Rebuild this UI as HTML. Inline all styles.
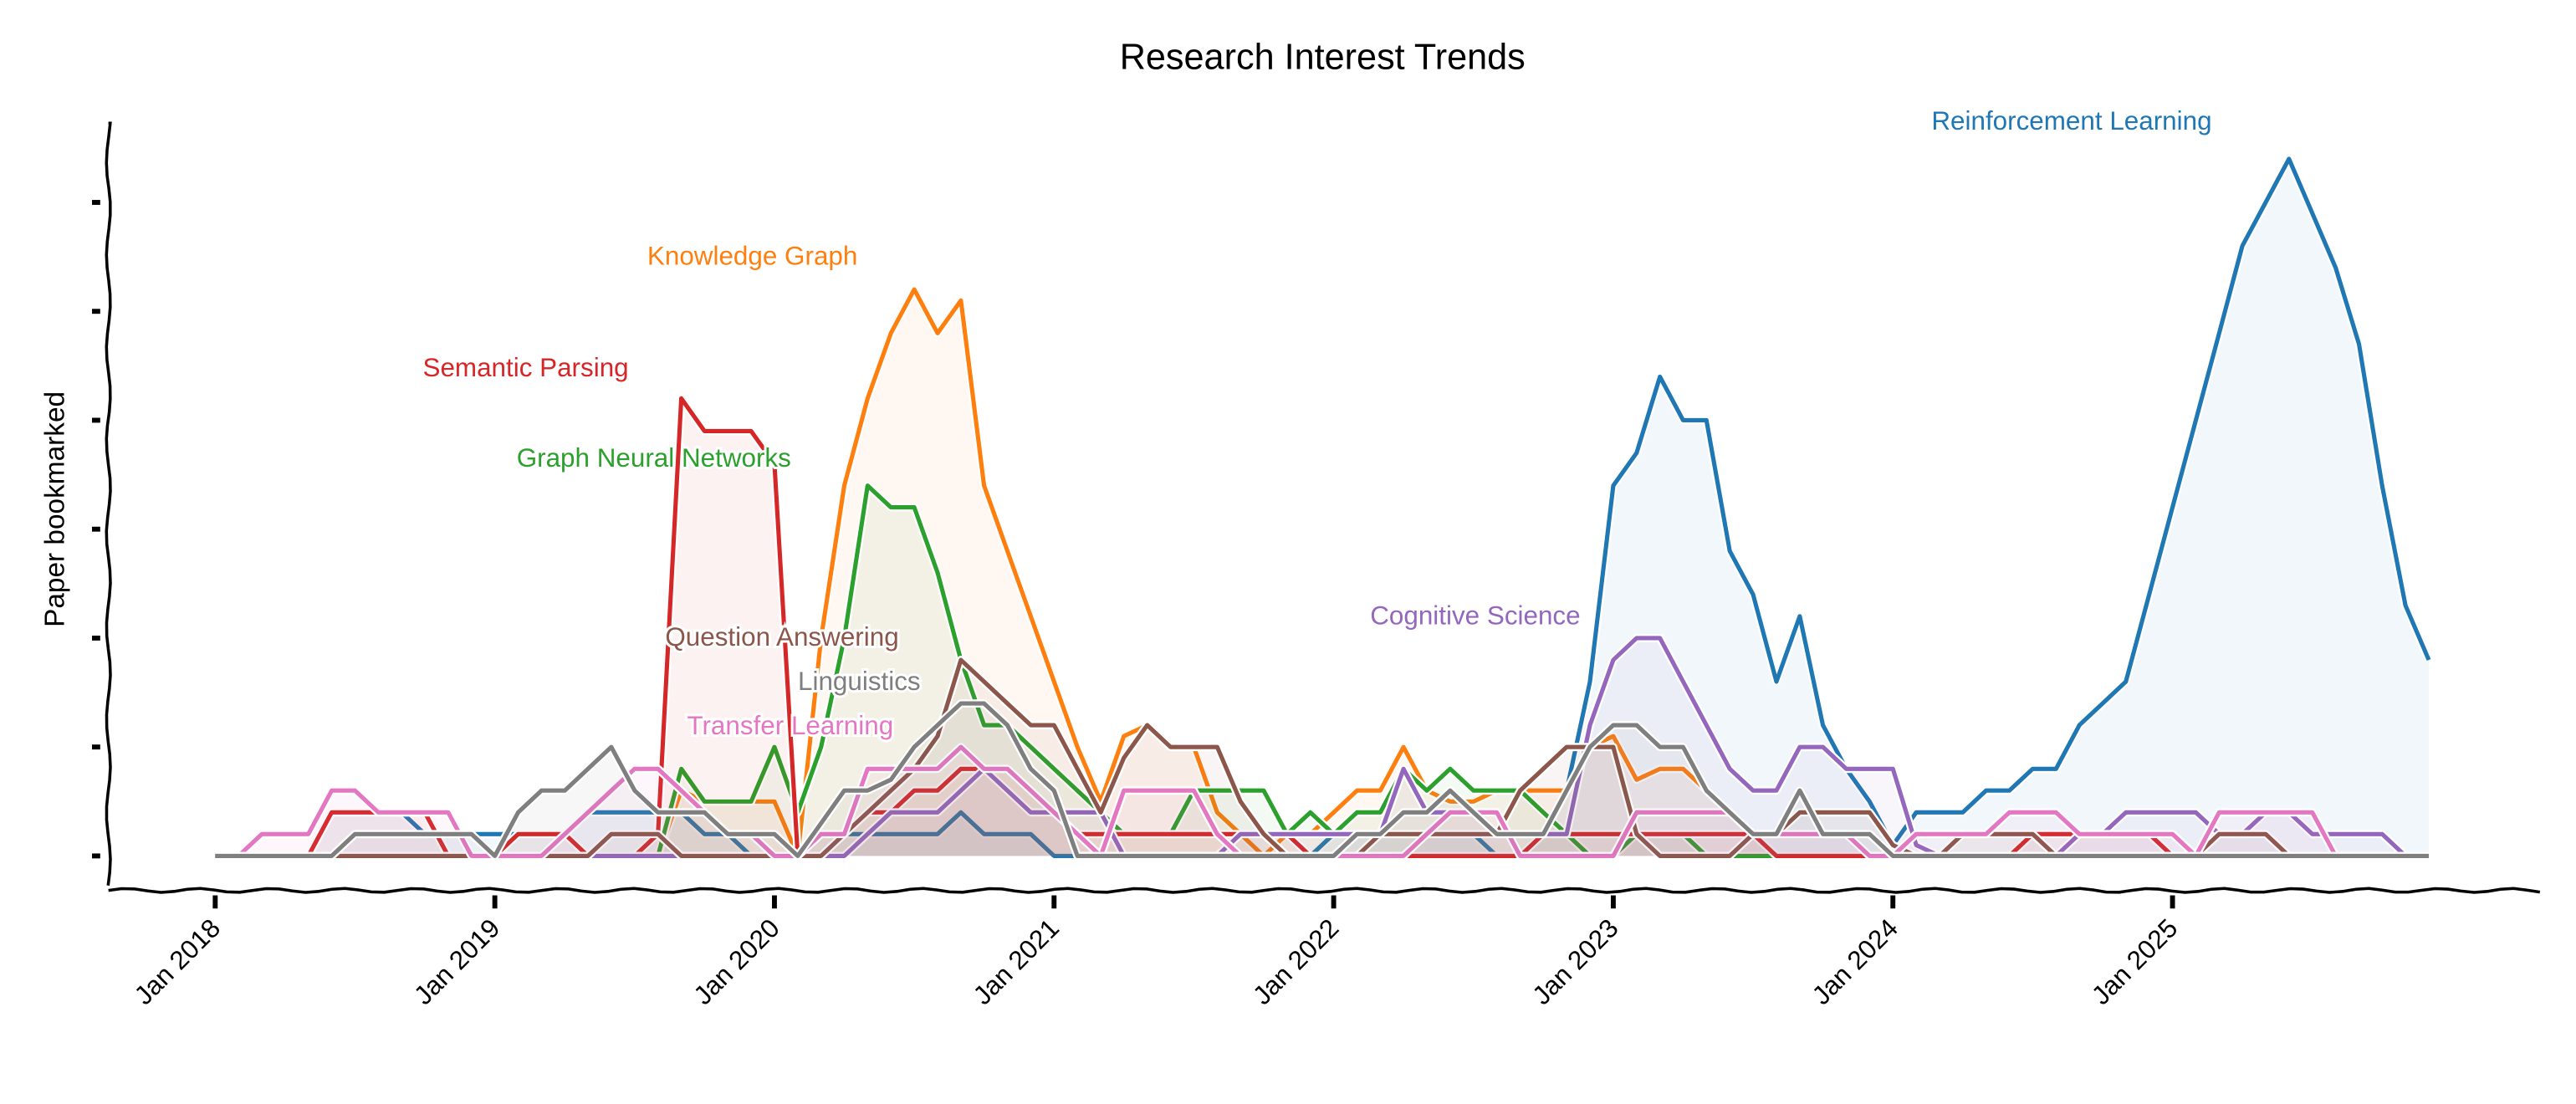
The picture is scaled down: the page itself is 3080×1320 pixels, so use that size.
<!DOCTYPE html>
<html><head><meta charset="utf-8"><style>
html,body{margin:0;padding:0;background:#fff}
svg{display:block}
text{font-family:"Liberation Sans","DejaVu Sans",sans-serif}
</style></head><body>
<svg id="chart" width="3080" height="1320" viewBox="0 0 1568 672" preserveAspectRatio="none" xmlns="http://www.w3.org/2000/svg">
<text x="805" y="42" font-size="22" text-anchor="middle" fill="#000">Research Interest Trends</text>
<text transform="translate(39,310) rotate(-90)" font-size="17" text-anchor="middle" fill="#000">Paper bookmarked</text>
<g id="plot"></g>
<g id="axes"></g>
</svg>
<script>
const months = 96; // Jan 2018 .. Dec 2025
const yearLabels = ["Jan 2018","Jan 2019","Jan 2020","Jan 2021","Jan 2022","Jan 2023","Jan 2024","Jan 2025"];
const yTicks = [0,5,10,15,20,25,30];
const seriesNames = ["Reinforcement Learning","Knowledge Graph","Graph Neural Networks","Semantic Parsing","Cognitive Science","Question Answering","Transfer Learning","Linguistics"];
const rlValues = [0,0,0,0,0,2,2,2,2,1,1,1,1,1,1,1,2,2,2,2,2,1,1,0,0,0,1,1,1,1,1,1,2,1,1,1,0,0,0,0,0,0,0,0,0,0,0,0,1,1,1,1,1,1,1,0,0,1,3,8,17,18.5,22,20,20,14,12,8,11,6,4,2.5,0.5,2,2,2,3,3,4,4,6,7,8,12,16,20,24,28,30,32,29.5,27,23.5,17,11.5,9];
const kgValues = [0,0,0,0,0,0,0,0,0,0,0,0,0,0,0,0,0,0,0,0,3,2.5,2.5,2.5,2.5,0,10,17,21,24,26,24,25.5,17,14,11,8,5,2.5,5.5,6,5,5,2,1,0,1,1,2,3,3,5,3,2.5,2.5,3,3,3,3,5,5.5,3.5,4,4,3,2,1,0,0,0,0,0,0,0,0,0,0,0,0,0,0,0,0,0,0,0,0,0,0,0,0,0,0,0,0,0];
const gnnValues = [0,0,0,0,0,0,0,0,0,0,0,0,0,0,0,0,0,0,0,0,4,2.5,2.5,2.5,5,2,5,10,17,16,16,13,9,6,6,5,4,3,2,1,1,1,3,3,3,3,1,2,1,2,2,4,3,4,3,3,3,2,1,0,0,1,1,1,0,0,0,0,0,0,0,0,0,0,0,0,0,0,0,0,0,0,0,0,0,0,0,0,0,0,0,0,0,0,0,0];
const spValues = [0,0,0,0,0,2,2,2,2,2,0,0,0,1,1,1,0,0,0,1,21,19.5,19.5,19.5,18,0,1,1,2,2,3,3,4,4,4,3,2,1,1,1,1,1,1,1,1,1,1,0,0,0,0,0,0,0,0,0,0,1,1,1,1,1,1,1,1,1,1,0,0,0,0,0,0,0,0,0,0,0,1,1,1,1,1,1,0,0,0,0,0,0,0,0,0,0,0,0];
const csValues = [0,0,0,0,0,0,0,0,0,0,0,0,0,0,0,0,0,0,0,0,0,0,0,0,0,0,0,0,1,2,2,2,3,4,3,2,2,2,2,0,0,0,0,0,1,1,1,1,1,1,1,4,2,2,2,1,1,1,1,6,9,10,10,8,6,4,3,3,5,5,4,4,4,0.5,0,0,0,0,0,0,1,1,2,2,2,2,1,1,2,2,1,1,1,1,0,0];
const qaValues = [0,0,0,0,0,0,0,0,0,0,0,0,0,0,0,0,0,1,1,1,0,0,0,0,0,0,0,1,2,3,4,5.5,9,8,7,6,6,4,2,4.5,6,5,5,5,2.5,1,0,0,0,0,1,1,1,1,1,1,3,4,5,5,5,1,0,0,0,0,1,1,2,2,2,2,0.5,0,0,1,1,1,1,0,0,0,0,0,0,0,1,1,1,0,0,0,0,0,0,0];
const tlValues = [0,0,1,1,1,3,3,2,2,2,2,0,0,0,0,1,2,3,4,4,3,2,1,1,0,0,1,1,4,4,4,4,5,4,4,3,2,1,0,3,3,3,3,1,0,0,0,0,0,0,0,0,1,2,2,2,0,0,0,0,0,2,2,2,2,2,1,1,1,1,1,0,0,1,1,1,1,2,2,2,1,1,1,1,1,0,2,2,2,2,2,0,0,0,0,0];
const lingValues = [0,0,0,0,0,0,1,1,1,1,1,1,0,2,3,3,4,5,3,2,2,2,1,1,1,0,1.5,3,3,3.5,5,6,7,7,6,4,3,0,0,0,0,0,0,0,0,0,0,0,0,1,1,2,2,3,2,1,1,1,3,5,6,6,5,5,3,2,1,1,3,1,1,1,0,0,0,0,0,0,0,0,0,0,0,0,0,0,0,0,0,0,0,0,0,0,0,0];
const seriesValues = [rlValues,kgValues,gnnValues,spValues,csValues,qaValues,tlValues,lingValues];
const colors = ["#1f77b4","#ff7f0e","#2ca02c","#d62728","#9467bd","#8c564b","#e377c2","#7f7f7f"];
const labelPos = [[1261,79],[458,161],[398,284],[320,229],[898,380],[476,393],[481,447],[523,420]];
const labelKeys = ["label-reinforcement-learning","label-knowledge-graph","label-graph-neural-networks","label-semantic-parsing","label-cognitive-science","label-question-answering","label-transfer-learning","label-linguistics"];
const lineKeys = ["line-reinforcement-learning","line-knowledge-graph","line-graph-neural-networks","line-semantic-parsing","line-cognitive-science","line-question-answering","line-transfer-learning","line-linguistics"];

const X0 = 131, PXM = 170.2/12, Y0 = 521, PXC = 13.26;
function xs(m){ return X0 + m*PXM; }
function ys(v){ return Y0 - v*PXC; }
const NS = "http://www.w3.org/2000/svg";
const plot = document.getElementById('plot');
const axes = document.getElementById('axes');
function mk(tag, attrs, parent){ const e=document.createElementNS(NS,tag); for(const k in attrs) e.setAttribute(k,attrs[k]); parent.appendChild(e); return e; }

seriesValues.forEach((vals,i)=>{
  let pts = vals.map((v,m)=>xs(m).toFixed(1)+','+ys(v).toFixed(1));
  const area = mk('path',{d:'M'+xs(0)+','+Y0+' L'+pts.join(' L')+' L'+xs(vals.length-1)+','+Y0+' Z',fill:colors[i],'fill-opacity':0.06,stroke:'none'},plot);
  
  
  const halo = mk('path',{d:'M'+pts.join(' L'),fill:'none',stroke:'#fff','stroke-width':5,'stroke-linejoin':'round'},plot);
  
  
  const line = mk('path',{d:'M'+pts.join(' L'),fill:'none',stroke:colors[i],'stroke-width':2.6,'stroke-linejoin':'round'},plot);
  
  
});
seriesNames.forEach((n,i)=>{
  const t = mk('text',{x:labelPos[i][0],y:labelPos[i][1],'font-size':16,'text-anchor':'middle',fill:colors[i],stroke:'#fff','stroke-width':3,'paint-order':'stroke'},plot);
  t.textContent = n;
  
  
});

// wobbly axes
let yd='M66,75'; for(let y=75;y<=541;y+=8){ yd+=' L'+(66+1.2*Math.sin(y/9)).toFixed(1)+','+y; }
const yax = mk('path',{d:yd,fill:'none',stroke:'#000','stroke-width':1.8},axes);


let xd='M66,542'; for(let x=66;x<=1548;x+=8){ xd+=' L'+x+','+(542+1.2*Math.sin(x/7)).toFixed(1); }
const xax = mk('path',{d:xd,fill:'none',stroke:'#000','stroke-width':1.8},axes);



yTicks.forEach(v=>{
  const t = mk('line',{x1:56,x2:61,y1:ys(v),y2:ys(v),stroke:'#000','stroke-width':3},axes);
  
  
});
yearLabels.forEach((lab,k)=>{
  const x = xs(k*12);
  const t = mk('line',{x1:x,x2:x,y1:545,y2:553,stroke:'#000','stroke-width':3},axes);
  
  
  const tx = mk('text',{transform:'translate('+(x+4)+',566) rotate(-45)','font-size':16,'text-anchor':'end',fill:'#000'},axes);
  tx.textContent = lab;
  
  
});
</script>
</body></html>
